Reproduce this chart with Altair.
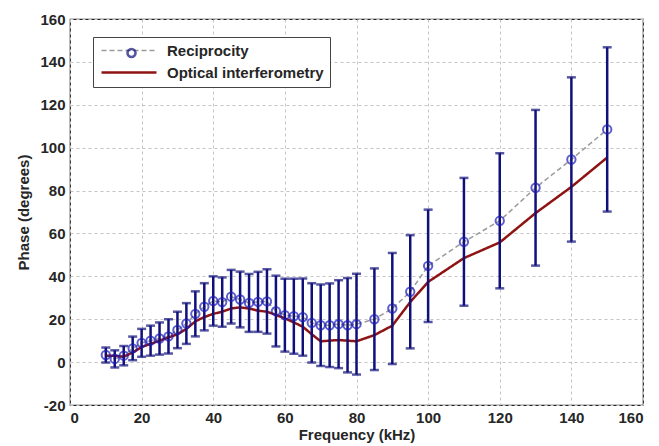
import altair as alt
import pandas as pd

freq = [10, 12.5, 15, 17.5, 20, 22.5, 25, 27.5, 30, 32.5, 35, 37.5, 40, 42.5, 45, 47.5,
        50, 52.5, 55, 57.5, 60, 62.5, 65, 67.5, 70, 72.5, 75, 77.5, 80,
        85, 90, 95, 100, 110, 120, 130, 140, 150]
recip = [3.3, 1.5, 3.0, 6.4, 9.0, 10.0, 11.0, 12.0, 15.0, 18.0, 22.5, 25.8, 28.5, 28.0, 30.5, 29.2,
         27.6, 28.1, 28.3, 23.8, 21.9, 21.4, 21.0, 18.3, 17.2, 17.2, 17.7, 17.2, 17.7,
         20.0, 25.0, 32.8, 44.9, 56.1, 65.9, 81.3, 94.5, 108.5]
err = [3.5, 4.0, 4.5, 5.5, 6.5, 7.0, 7.5, 8.0, 8.5, 9.5, 10.5, 11.0, 11.5, 11.5, 12.5, 13.0,
       13.5, 14.0, 15.0, 16.5, 17.0, 17.5, 18.0, 18.5, 19.0, 19.5, 20.5, 22.0, 23.5,
       23.7, 25.9, 26.4, 26.2, 29.8, 31.5, 36.3, 38.3, 38.3]
optical = [3.0, 3.0, 2.5, 4.5, 7.0, 8.5, 10.0, 11.5, 13.0, 15.5, 19.0, 21.0, 22.5, 23.5, 25.0, 25.5,
           25.0, 24.0, 23.5, 22.0, 20.4, 18.5, 16.5, 13.0, 9.7, 10.0, 10.3, 10.0, 9.7,
           12.6, 17.0, 28.0, 37.4, 48.5, 55.8, 69.5, 81.7, 95.4]
series_names = ["Reciprocity", "Optical interferometry"]
x_ticks = [0, 20, 40, 60, 80, 100, 120, 140, 160]
y_ticks = [-20, 0, 20, 40, 60, 80, 100, 120, 140, 160]

df = pd.DataFrame({"freq": freq, "recip": recip, "err": err, "optical": optical})
df["lo"] = df["recip"] - df["err"]
df["hi"] = df["recip"] + df["err"]
df["mk"] = "Reciprocity"

long = pd.concat([
    pd.DataFrame({"freq": freq, "phase": recip, "series": series_names[0]}),
    pd.DataFrame({"freq": freq, "phase": optical, "series": series_names[1]}),
], ignore_index=True)

FONT = "Liberation Sans"
TXT = "#262626"
xs = alt.Scale(domain=[0, 160], nice=False, zero=False)
ys = alt.Scale(domain=[-20, 160], nice=False, zero=False)
x_axis = alt.Axis(values=x_ticks, title="Frequency (kHz)", labelExpr="'' + datum.value")
y_axis = alt.Axis(values=y_ticks, title="Phase (degrees)", labelExpr="'' + datum.value")

LINE_SYMBOL = "M-1,0H10"

lines = alt.Chart(long).mark_line().encode(
    x=alt.X("freq:Q", scale=xs, axis=x_axis),
    y=alt.Y("phase:Q", scale=ys, axis=y_axis),
    color=alt.Color("series:N", scale=alt.Scale(domain=series_names, range=["#9a9a9a", "#8e1414"]),
                    legend=alt.Legend(orient="none", legendX=23, legendY=18, title=None,
                                      symbolType=LINE_SYMBOL, symbolSize=100, symbolStrokeWidth=2.2,
                                      labelFont=FONT, labelFontSize=15, labelFontWeight="bold",
                                      labelColor=TXT, strokeColor="#444", fillColor="white",
                                      padding=6, rowPadding=6, labelOffset=53)),
    strokeDash=alt.StrokeDash("series:N", scale=alt.Scale(domain=series_names, range=[[5, 3], [1, 0]]),
                              legend=alt.Legend(orient="none", legendX=23, legendY=18, title=None)),
    strokeWidth=alt.StrokeWidth("series:N", scale=alt.Scale(domain=series_names, range=[1.5, 2.5]),
                                legend=None),
)

bars = alt.Chart(df).mark_errorbar(ticks={"size": 9, "thickness": 2.5}, thickness=2.5, color="#10107a").encode(
    x=alt.X("freq:Q", scale=xs, axis=x_axis),
    y=alt.Y("lo:Q", scale=ys, axis=y_axis),
    y2="hi:Q",
)

points = alt.Chart(df).mark_point(filled=False, size=70, strokeWidth=2, color="#1a1ab8").encode(
    x=alt.X("freq:Q", scale=xs, axis=x_axis),
    y=alt.Y("recip:Q", scale=ys, axis=y_axis),
    shape=alt.Shape("mk:N", scale=alt.Scale(domain=["Reciprocity"], range=["circle"]),
                    legend=alt.Legend(orient="none", legendX=56, legendY=28.5, title=None,
                                      symbolStrokeColor="#10107a", symbolFillColor="white",
                                      symbolSize=64, symbolStrokeWidth=2.6, padding=0,
                                      labelOpacity=0, labelFontSize=1)),
)

chart = alt.layer(lines, bars, points).properties(
    width=573, height=386,
    autosize=alt.AutoSizeParams(type="none"),
    padding={"left": 70, "top": 19, "right": 16, "bottom": 41},
    background="white",
).configure_view(
    stroke="#222", strokeWidth=1.2
).configure_axis(
    domain=False, ticks=False,
    grid=True, gridColor="#c4c4c4", gridDash=[3, 3], gridWidth=1,
    labelFont=FONT, labelFontSize=15, labelFontWeight="bold", labelColor=TXT, labelPadding=5,
    titleFont=FONT, titleFontSize=15, titleFontWeight="bold", titleColor=TXT,
).configure_axisX(titlePadding=2).configure_axisY(titlePadding=8)

chart.save("out.html", embed_options={"renderer": "svg", "actions": False})
